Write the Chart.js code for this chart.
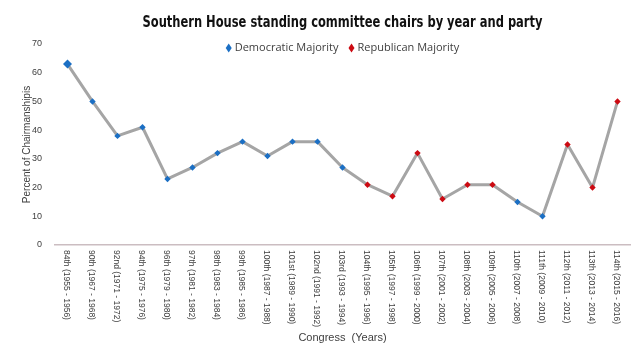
<!DOCTYPE html>
<html>
<head>
<meta charset="utf-8">
<script src="https://cdn.jsdelivr.net/npm/chart.js@4.4.0/dist/chart.umd.min.js"></script>
<style>
  html, body { margin: 0; padding: 0; background: #fff; }
</style>
</head>
<body>
<canvas id="chart" width="640" height="360"></canvas>
<script>
const titleText = 'Southern House standing committee chairs by year and party';

// Congress sessions shown on the x axis
const congresses = ['84th', '90th', '92nd', '94th', '96th', '97th', '98th', '99th', '100th', '101st', '102nd',
  '103rd', '104th', '105th', '106th', '107th', '108th', '109th', '110th', '111th', '112th', '113th', '114th'];
const years = ['1955 - 1956', '1967 - 1968', '1971 - 1972', '1975 - 1976', '1979 - 1980', '1981 - 1982',
  '1983 - 1984', '1985 - 1986', '1987 - 1988', '1989 - 1990', '1991 - 1992', '1993 - 1994', '1995 - 1996',
  '1997 - 1998', '1999 - 2000', '2001 - 2002', '2003 - 2004', '2005 - 2006', '2007 - 2008', '2009 - 2010',
  '2011 - 2012', '2013 - 2014', '2015 - 2016'];

// Percent of chairmanships held by southern members
const chairPercent = [63, 50, 38, 41, 23, 27, 32, 36, 31, 36, 36, 27, 21, 17, 32, 16, 21, 21, 15, 10, 35, 20, 50];

// Which party held the majority in each congress
const majority = ['D', 'D', 'D', 'D', 'D', 'D', 'D', 'D', 'D', 'D', 'D', 'D',
  'R', 'R', 'R', 'R', 'R', 'R', 'D', 'D', 'R', 'R', 'R'];

const yTicks = [0, 10, 20, 30, 40, 50, 60, 70];

const tickLabels = congresses.map((c, i) => c + ' (' + years[i] + ')');
const demValues = chairPercent.map((v, i) => majority[i] === 'D' ? v : null);
const repValues = chairPercent.map((v, i) => majority[i] === 'R' ? v : null);

const BLUE = '#1b6fc4';
const RED = '#cc0a12';

// Title + legend, centred over the plot area
const headerPlugin = {
  id: 'header',
  afterDraw(chart) {
    const { ctx, chartArea } = chart;
    const cx = (chartArea.left + chartArea.right) / 2;
    ctx.save();
    ctx.fillStyle = '#111';
    ctx.font = 'bold 16px "Liberation Sans Narrow", "DejaVu Sans Condensed", sans-serif';
    ctx.textAlign = 'center';
    ctx.textBaseline = 'middle';
    // condensed look of the original title
    const tw = ctx.measureText(titleText).width;
    const squeeze = Math.min(1, 400 / tw);
    ctx.save();
    ctx.translate(cx, 23);
    ctx.scale(squeeze, 1);
    ctx.fillText(titleText, 0, 0);
    ctx.restore();

    ctx.font = '11px "Open Sans", sans-serif';
    ctx.textAlign = 'left';
    const items = chart.data.datasets.filter(d => d.inLegend);
    const markerW = 9, gap = 10;
    const widths = items.map(d => ctx.measureText(d.label).width);
    const total = widths.reduce((a, b) => a + b, 0) + items.length * markerW + (items.length - 1) * gap;
    let x = cx - total / 2;
    const y = 48;
    items.forEach((d, i) => {
      ctx.fillStyle = d.backgroundColor;
      ctx.beginPath();
      ctx.moveTo(x + 3, y - 4.5);
      ctx.lineTo(x + 6, y);
      ctx.lineTo(x + 3, y + 4.5);
      ctx.lineTo(x, y);
      ctx.closePath();
      ctx.fill();
      ctx.fillStyle = '#404040';
      ctx.fillText(d.label, x + markerW, y);
      x += markerW + widths[i] + gap;
    });
    ctx.restore();
  }
};

// Category labels read top to bottom (rotated clockwise)
const xLabelPlugin = {
  id: 'xLabels',
  afterDraw(chart) {
    const { ctx } = chart;
    const xs = chart.scales.x;
    ctx.save();
    ctx.fillStyle = '#404040';
    ctx.font = '8.5px "Liberation Sans", Arial, sans-serif';
    ctx.textAlign = 'left';
    ctx.textBaseline = 'middle';
    tickLabels.forEach((label, i) => {
      const x = xs.getPixelForValue(i);
      ctx.save();
      ctx.translate(x - 1, xs.top + 5);
      ctx.rotate(Math.PI / 2);
      ctx.fillText(label, 0, 0);
      ctx.restore();
    });
    ctx.restore();
  }
};

const chart = new Chart(document.getElementById('chart'), {
  type: 'line',
  data: {
    labels: tickLabels,
    datasets: [
      {
        label: 'Democratic Majority',
        inLegend: true,
        data: demValues,
        showLine: false,
        pointStyle: 'rectRot',
        pointRadius: ctx => ctx.dataIndex === 0 ? 4.5 : 3.2,
        backgroundColor: BLUE,
        borderColor: BLUE,
        borderWidth: 0,
        order: 1
      },
      {
        label: 'Republican Majority',
        inLegend: true,
        data: repValues,
        showLine: false,
        pointStyle: 'rectRot',
        pointRadius: 3.2,
        backgroundColor: RED,
        borderColor: RED,
        borderWidth: 0,
        order: 1
      },
      {
        label: 'Percent',
        data: chairPercent,
        borderColor: '#a5a5a5',
        borderWidth: 3,
        borderJoinStyle: 'round',
        pointRadius: 0,
        tension: 0,
        order: 2
      }
    ]
  },
  options: {
    responsive: false,
    animation: false,
    events: [],
    layout: { padding: { top: 44, right: 10, left: 0, bottom: 0 } },
    plugins: {
      legend: { display: false },
      title: { display: false },
      tooltip: { enabled: false }
    },
    scales: {
      x: {
        type: 'category',
        offset: true,
        grid: { display: false, drawTicks: false },
        border: { display: true, color: '#cbbdc1', width: 1.5 },
        ticks: { display: false },
        title: {
          display: true,
          text: 'Congress  (Years)',
          color: '#404040',
          font: { family: '"Liberation Sans", Arial, sans-serif', size: 11 },
          padding: { top: 0, bottom: 15 }
        },
        afterFit: scale => { scale.height = 115; }
      },
      y: {
        min: 0,
        max: 70,
        afterBuildTicks: scale => { scale.ticks = yTicks.map(v => ({ value: v })); },
        grid: { display: false, drawTicks: false },
        border: { display: false },
        ticks: {
          color: '#404040',
          padding: 13,
          font: { family: '"Liberation Sans", Arial, sans-serif', size: 9 }
        },
        title: {
          display: true,
          text: 'Percent of Chairmanshipis',
          color: '#404040',
          font: { family: '"Liberation Sans", Arial, sans-serif', size: 10 },
          padding: { top: 21, bottom: 0 }
        },
        afterFit: scale => { scale.width = 55; }
      }
    }
  },
  plugins: [headerPlugin, xLabelPlugin]
});
</script>
</body>
</html>
